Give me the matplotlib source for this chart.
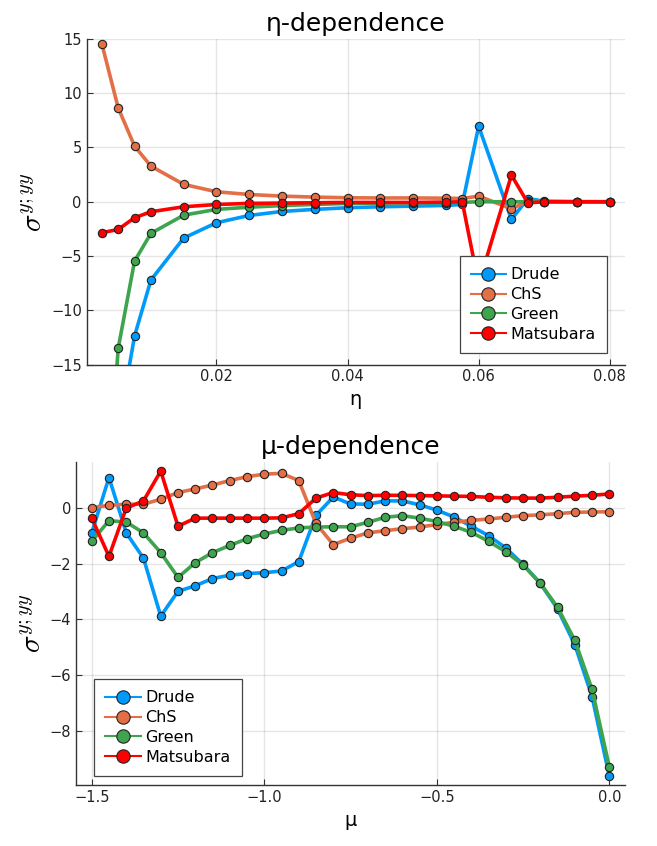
import matplotlib
matplotlib.use("Agg")
import matplotlib.pyplot as plt


# eta scan
eta = [0.0025, 0.005, 0.0075, 0.01, 0.015, 0.02, 0.025, 0.03, 0.035, 0.04,
       0.045, 0.05, 0.055, 0.0575, 0.06, 0.065, 0.0675, 0.07, 0.075, 0.08]
drude_eta = [-45.0, -21.0, -12.36, -7.2, -3.34, -1.93, -1.26, -0.89, -0.7, -0.55,
             -0.46, -0.4, -0.34, -0.25, 6.96, -1.63, 0.3, 0.05, 0.0, 0.0]
chs_eta = [14.57, 8.65, 5.12, 3.28, 1.6, 0.92, 0.67, 0.52, 0.43, 0.37,
           0.35, 0.35, 0.33, 0.3, 0.52, -0.64, 0.05, 0.02, 0.01, 0.0]
green_eta = [-35.0, -13.5, -5.46, -2.91, -1.23, -0.7, -0.5, -0.35, -0.25, -0.15,
             -0.12, -0.1, -0.08, -0.05, 0.0, 0.0, 0.0, 0.0, 0.0, 0.0]
mats_eta = [-2.85, -2.55, -1.47, -0.92, -0.46, -0.25, -0.15, -0.12, -0.09, -0.06,
            -0.06, -0.06, -0.03, 0.0, -7.6, 2.45, -0.1, 0.0, 0.0, 0.0]

# mu scan
mu = [-1.5, -1.45, -1.4, -1.35, -1.3, -1.25, -1.2, -1.15, -1.1, -1.05, -1.0,
      -0.95, -0.9, -0.85, -0.8, -0.75, -0.7, -0.65, -0.6, -0.55, -0.5,
      -0.45, -0.4, -0.35, -0.3, -0.25, -0.2, -0.15, -0.1, -0.05, 0.0]
drude_mu = [-0.89, 1.1, -0.89, -1.8, -3.88, -2.99, -2.79, -2.53, -2.41, -2.35, -2.32,
            -2.26, -1.92, -0.26, 0.4, 0.15, 0.14, 0.26, 0.26, 0.12, -0.07,
            -0.32, -0.65, -0.99, -1.43, -2.02, -2.70, -3.62, -4.9, -6.77, -9.62]
chs_mu = [0.02, 0.1, 0.14, 0.14, 0.32, 0.56, 0.69, 0.83, 0.99, 1.13, 1.22,
          1.25, 0.99, -0.55, -1.31, -1.08, -0.89, -0.81, -0.74, -0.68, -0.59,
          -0.51, -0.44, -0.39, -0.33, -0.27, -0.24, -0.2, -0.15, -0.14, -0.13]
green_mu = [-1.19, -0.45, -0.5, -0.89, -1.6, -2.49, -1.96, -1.6, -1.34, -1.1, -0.93,
            -0.8, -0.71, -0.68, -0.67, -0.67, -0.51, -0.33, -0.27, -0.36, -0.48,
            -0.65, -0.87, -1.19, -1.57, -2.04, -2.70, -3.56, -4.75, -6.51, -9.29]
mats_mu = [-0.36, -1.73, 0.0, 0.26, 1.33, -0.65, -0.36, -0.36, -0.36, -0.36, -0.36,
           -0.35, -0.2, 0.36, 0.56, 0.48, 0.45, 0.46, 0.46, 0.45, 0.44,
           0.43, 0.42, 0.39, 0.37, 0.36, 0.36, 0.39, 0.43, 0.46, 0.51]

labels = ["Drude", "ChS", "Green", "Matsubara"]
colors = ["#009AFA", "#E36F47", "#3EA44E", "#FF0000"]

plt.rcParams["mathtext.fontset"] = "cm"


def style_axes(ax):
    ax.spines["top"].set_visible(False)
    ax.spines["right"].set_visible(False)
    for s in ("left", "bottom"):
        ax.spines[s].set_color("#333333")
        ax.spines[s].set_linewidth(1.0)
    ax.grid(True, color="#000000", alpha=0.1, linewidth=1.0)
    ax.set_axisbelow(True)
    ax.tick_params(direction="in", length=4, width=0.8, color="#333333",
                   labelsize=10.5, labelcolor="#222222")


def draw(ax, x, series, anchor, loc):
    for y, lab, c in zip(series, labels, colors):
        ax.plot(x, y, color=c, linewidth=2.6, marker="o", markersize=6,
                markerfacecolor=c, markeredgecolor="#222222",
                markeredgewidth=0.8, label=lab)
    leg = ax.legend(loc=loc, bbox_to_anchor=anchor, borderaxespad=0,
                    fontsize=11.5, fancybox=False, framealpha=1,
                    edgecolor="#444444", handlelength=2.2, labelspacing=0.3,
                    handletextpad=0.3, markerscale=1.6, borderpad=0.7)
    leg.get_frame().set_linewidth(0.9)
    for h in leg.get_lines():
        h.set_linewidth(1.5)


fig = plt.figure(figsize=(6.57, 8.46), dpi=100)
ax1 = fig.add_axes([0.132, 0.569, 0.819, 0.385])
ax2 = fig.add_axes([0.116, 0.072, 0.835, 0.382])

draw(ax1, eta, [drude_eta, chs_eta, green_eta, mats_eta], (0.967, 0.036), "lower right")
ax1.set_xlim(0.0002, 0.0823)
ax1.set_ylim(-15, 15)
ax1.set_xticks([0.02, 0.04, 0.06, 0.08])
ax1.set_xticklabels(["0.02", "0.04", "0.06", "0.08"])
ax1.set_yticks([-15, -10, -5, 0, 5, 10, 15])
ax1.set_yticklabels(["\u221215", "\u221210", "\u22125", "0", "5", "10", "15"])
ax1.set_title("\u03b7-dependence", fontsize=18, pad=6)
ax1.set_xlabel("\u03b7", fontsize=14)
ax1.set_ylabel(r"$\sigma^{y;yy}$", fontsize=21, labelpad=2)
style_axes(ax1)

draw(ax2, mu, [drude_mu, chs_mu, green_mu, mats_mu], (0.033, 0.028), "lower left")
ax2.set_xlim(-1.545, 0.045)
ax2.set_ylim(-9.95, 1.66)
ax2.set_xticks([-1.5, -1.0, -0.5, 0.0])
ax2.set_xticklabels(["\u22121.5", "\u22121.0", "\u22120.5", "0.0"])
ax2.set_yticks([-8, -6, -4, -2, 0])
ax2.set_yticklabels(["\u22128", "\u22126", "\u22124", "\u22122", "0"])
ax2.set_title("\u03bc-dependence", fontsize=18, pad=6)
ax2.set_xlabel("\u03bc", fontsize=14)
ax2.set_ylabel(r"$\sigma^{y;yy}$", fontsize=21, labelpad=2)
style_axes(ax2)

fig.savefig("out.png", dpi=100, facecolor="white")
